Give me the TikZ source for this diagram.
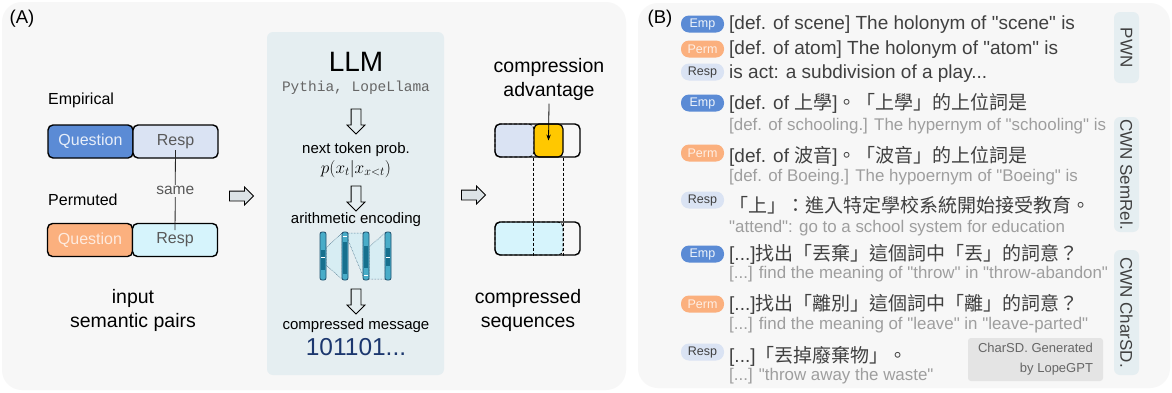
\documentclass[tikz,border=0pt]{standalone}
\usepackage{fontspec}
\setmainfont{Liberation Sans}[Ligatures=TeXOff]
\setmonofont{Liberation Mono}
\newfontfamily\cjk{Noto Sans CJK TC}
\usepackage{amsmath}
\usepackage{tikz}
\usetikzlibrary{arrows.meta, positioning, shapes.arrows, calc}
\definecolor{panelgray}{RGB}{247,247,247}
\definecolor{llmbg}{RGB}{229,238,241}
\definecolor{empblue}{RGB}{91,139,213}
\definecolor{resplight}{RGB}{218,227,243}
\definecolor{permorange}{RGB}{251,176,126}
\definecolor{respcyan}{RGB}{214,244,252}
\definecolor{advgold}{RGB}{255,200,0}
\definecolor{txtgray}{RGB}{64,64,64}
\definecolor{glossgray}{RGB}{158,158,158}
\definecolor{notegray}{RGB}{228,228,228}
\definecolor{arrowgray}{RGB}{220,227,230}
\definecolor{msgnavy}{RGB}{28,55,110}
\definecolor{barteal}{RGB}{72,172,200}
\definecolor{bardark}{RGB}{22,112,142}
\definecolor{barline}{RGB}{30,80,110}
\newcommand{\pts}[1]{\fontsize{#1}{#1}\selectfont}

\begin{document}
\begin{tikzpicture}[x=1pt, y=-1pt,
    half/.style={draw=black, line width=1.4pt, rounded corners=5pt,
                 minimum width=85pt, minimum height=33pt,
                 inner sep=0pt, outer sep=0pt, font=\pts{16}},
    lbl/.style={anchor=west, inner sep=0pt, font=\pts{16}},
    capt/.style={align=center, font=\fontsize{19.5}{24}\selectfont},
    rarr/.style={single arrow, draw=black, fill=arrowgray, line width=0.8pt,
                 minimum height=24pt, inner sep=4.5pt, single arrow head extend=4pt},
    darr/.style={rarr, fill=none, shape border rotate=270, minimum height=25pt},
    step15/.style={font=\pts{15}},
    badge/.style={rounded corners=8pt, minimum width=43pt, minimum height=17pt,
                  inner sep=0pt, font=\pts{12.5}},
    emp/.style={badge, fill=empblue, text=white!90!empblue},
    perm/.style={badge, fill=permorange, text=white!80!permorange},
    resp/.style={badge, fill=resplight, text=txtgray},
    maintext/.style={anchor=west, inner sep=0pt, text=txtgray, font=\pts{19},
                     text height=14pt, text depth=4pt},
    gloss/.style={anchor=west, inner sep=0pt, text=glossgray, font=\pts{16.9},
                  text height=12.5pt, text depth=3.5pt},
    sidetab/.style={fill=llmbg, rounded corners=6pt, rotate=-90, minimum height=25pt,
                    inner sep=0pt, text=txtgray, font=\pts{17}}
  ]
  \fill[white] (0,0) rectangle (1172,392);
  \useasboundingbox (0,0) rectangle (1172,392);

  % the two panels
  \fill[panelgray, rounded corners=20pt] (2,2) rectangle (626,390);
  \fill[panelgray, rounded corners=20pt] (638,3) rectangle (1170,388);
  \node[font=\pts{18.5}] (tagA) at (22,19) {(A)};
  \node[font=\pts{18.5}] (tagB) at (660,19) {(B)};

  % input pairs
  \node[lbl] (emplbl) at (48,100) {Empirical};
  \node[half, fill=empblue, text=white!85!empblue] (eq) at (90.5,141.5) {Question};
  \node[half, fill=resplight, text=black!65, right=0pt of eq] (er) {Resp};
  \node[lbl] (permlbl) at (48,200) {Permuted};
  \node[half, fill=permorange, text=white!75!permorange] (pq) at (90,240) {Question};
  \node[half, fill=respcyan, text=black!65, right=0pt of pq] (pr) {Resp};
  \draw[line width=0.8pt, black!85, shorten <=8.5pt, shorten >=10pt] (er.center)
        -- node[fill=panelgray, text=black!65, font=\pts{15.5}, inner sep=1.5pt]{same} (pr.center);
  \node[capt] (inputcap) at (133,310) {input\\semantic pairs};

  \node[rarr] (toLLM) at (239,196) {};

  % language model as coder
  \node[fill=llmbg, rounded corners=6pt, minimum width=177pt, minimum height=343pt] (llmbox) at (355.5,203.5) {};
  \node[font=\pts{28}] (llm) at (356,62) {LLM};
  \node[font=\ttfamily\pts{14.5}, text=black!60] (models) at (356,88) {Pythia, LopeLlama};
  \node[darr] (d1) at (356,119) {};
  \node[step15] (ntp) at (356,150) {next token prob.};
  \node[font=\pts{16.5}] (prob) at (356,169) {$p(x_t|x_{x<t})$};
  \node[darr] (d2) at (356,196) {};
  \node[step15] (arith) at (356,220) {arithmetic encoding};
  \filldraw[fill=barteal!22, draw=barline, densely dotted, line width=0.5pt]
        (326,248) -- (342,233) -- (342,279) -- (326,265) -- cycle;
  \filldraw[fill=barteal!22, draw=barline, densely dotted, line width=0.5pt]
        (348,233) -- (363,233) -- (363,276) -- (348,240) -- cycle;
  \filldraw[fill=barteal!22, draw=barline, densely dotted, line width=0.5pt]
        (369,247) -- (385,233) -- (385,279) -- (369,279) -- cycle;
  \filldraw[fill=barteal, draw=barline, line width=0.8pt, rounded corners=2pt] (320,232) rectangle (326,280);
  \fill[bardark] (320.8,250) rectangle (325.2,270);
  \draw[white, line width=0.8pt] (320.8,257) -- (325.2,257);
  \filldraw[fill=barteal, draw=barline, line width=0.8pt, rounded corners=2pt] (342,232) rectangle (348,280);
  \fill[bardark] (342.8,242) rectangle (347.2,274);
  \draw[white, line width=0.8pt] (342.8,236) -- (347.2,236);
  \filldraw[fill=barteal, draw=barline, line width=0.8pt, rounded corners=2pt] (363,232) rectangle (369,280);
  \fill[bardark] (363.8,246) rectangle (368.2,268);
  \draw[white, line width=0.8pt] (363.8,275) -- (368.2,275);
  \filldraw[fill=barteal, draw=barline, line width=0.8pt, rounded corners=2pt] (385,232) rectangle (391,280);
  \fill[bardark] (385.8,248) rectangle (390.2,266);
  \draw[white, line width=0.8pt] (385.8,257) -- (390.2,257);
  \node[darr] (d3) at (356,299) {};
  \node[step15] (cmsg) at (356,326) {compressed message};
  \node[font=\pts{24.5}, text=msgnavy] (bits) at (356,347) {101101...};

  \node[rarr] (toSeq) at (471,195) {};

  % compressed sequences
  \node[capt] (advcap) at (549,79) {compression\\advantage};
  \filldraw[fill=resplight, densely dashed, line width=0.8pt, rounded corners=5pt] (495,124) rectangle (534,157);
  \filldraw[fill=respcyan, densely dashed, line width=0.8pt, rounded corners=5pt] (495,222) rectangle (563,255);
  \node[draw, line width=1.2pt, fill=advgold, rounded corners=5pt, minimum width=29pt,
        minimum height=33pt, inner sep=0pt] (adv) at (548.5,140.5) {};
  \node[draw, line width=1.4pt, rounded corners=5pt, minimum width=85pt, minimum height=33pt,
        inner sep=0pt] (seqtop) at (537.5,140.5) {};
  \node[draw, line width=1.4pt, rounded corners=5pt, minimum width=85pt, minimum height=33pt,
        inner sep=0pt] (seqbot) at (537.5,238.5) {};
  \draw[densely dashed, line width=0.8pt] (adv.south west) -- (adv.south west |- seqbot.south);
  \draw[densely dashed, line width=0.8pt] (adv.south east) -- (adv.south east |- seqbot.south);
  \draw[-{Stealth[length=6pt]}, line width=0.8pt] (advcap.south) -- (adv.center);
  \node[capt] (seqcap) at (528,310) {compressed\\sequences};

  % examples
  \node[emp] (e1) at (702.5,24) {Emp};
  \node[maintext] (e1t) at (729,24) {[def. of scene] The holonym of "scene" is};
  \node[perm] (p1) at (702.5,49) {Perm};
  \node[maintext] (p1t) at (729,49) {[def. of atom] The holonym of "atom" is};
  \node[resp] (r1) at (702.5,72) {Resp};
  \node[maintext] (r1t) at (729,73) {is act: a subdivision of a play...};

  \node[emp] (e2) at (702.5,103) {Emp};
  \node[maintext] (e2t) at (729,104) {[def. of {\cjk 上學}]{\cjk 。「上學」的上位詞是}};
  \node[gloss] (e2g) at (729,126) {[def. of schooling.] The hypernym of "schooling" is};
  \node[perm] (p2) at (702.5,153) {Perm};
  \node[maintext] (p2t) at (729,157) {[def. of {\cjk 波音}]{\cjk 。「波音」的上位詞是}};
  \node[gloss] (p2g) at (729,177) {[def. of Boeing.] The hypoernym of "Boeing" is};
  \node[resp] (r2) at (702.5,200) {Resp};
  \node[maintext] (r2t) at (729,207) {\cjk 「上」：進入特定學校系統開始接受教育。};
  \node[gloss] (r2g) at (729,228) {"attend": go to a school system for education};

  \node[emp] (e3) at (702.5,254) {Emp};
  \node[maintext] (e3t) at (729,255) {[...]{\cjk 找出「丟棄」這個詞中「丟」的詞意？}};
  \node[gloss] (e3g) at (729,274) {[...] find the meaning of "throw" in "throw-abandon"};
  \node[perm] (p3) at (702.5,304) {Perm};
  \node[maintext] (p3t) at (729,305) {[...]{\cjk 找出「離別」這個詞中「離」的詞意？}};
  \node[gloss] (p3g) at (729,325) {[...] find the meaning of "leave" in "leave-parted"};
  \node[resp] (r3) at (702.5,352) {Resp};
  \node[maintext] (r3t) at (729,357) {[...]{\cjk 「丟掉廢棄物」。}};
  \node[gloss] (r3g) at (729,376) {[...] "throw away the waste"};
  \node[fill=notegray, rounded corners=3pt, minimum width=135pt, minimum height=43pt,
        align=right, text=black!60, font=\fontsize{13}{20}\selectfont] (gen) at (1035.5,359.5)
        {CharSD. Generated\\by LopeGPT};

  \node[sidetab, minimum width=71pt] (pwn) at (1126.5,47.5) {PWN};
  \node[sidetab, minimum width=115pt] (semrel) at (1126.5,174.5) {CWN SemRel.};
  \node[sidetab, minimum width=125pt] (charsd) at (1126.5,312.5) {CWN CharSD.};
\end{tikzpicture}
\end{document}
